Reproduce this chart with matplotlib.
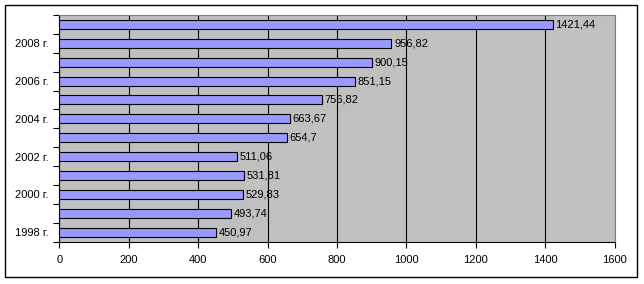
import matplotlib.pyplot as plt
import numpy as np
from matplotlib.patches import Rectangle

plt.rcParams['font.family'] = ['Liberation Sans', 'DejaVu Sans']

years = [1998, 1999, 2000, 2001, 2002, 2003, 2004, 2005, 2006, 2007, 2008, 2009]
values = [450.97, 493.74, 529.83, 531.81, 511.06, 654.7, 663.67, 756.82, 851.15, 900.15, 956.82, 1421.44]
value_labels = ['450,97', '493,74', '529,83', '531,81', '511,06', '654,7',
                '663,67', '756,82', '851,15', '900,15', '956,82', '1421,44']
year_labels = [f'{y} г.' if y % 2 == 0 else '' for y in years]

fig = plt.figure(figsize=(6.44, 2.84), dpi=100)
fig.patch.set_facecolor('white')

# outer frame
fig.patches.append(Rectangle((5 / 644, 1 - 277 / 284), 632 / 644, 272 / 284,
                             transform=fig.transFigure, fill=False,
                             edgecolor='black', linewidth=1.0))

ax = fig.add_axes([59.5 / 644, 1 - 241.5 / 284, 555 / 644, 226.5 / 284])
ax.set_facecolor('#c0c0c0')

pos = np.arange(len(years))
ax.barh(pos, values, height=0.48, color='#9999ff', edgecolor='black', linewidth=0.8, zorder=3)

for p, v, lab in zip(pos, values, value_labels):
    ax.text(v + 8, p, lab, va='center', ha='left', fontsize=8, zorder=4)

ax.set_xlim(0, 1600)
ax.set_ylim(-0.5, len(years) - 0.5)
ax.set_xticks(np.arange(0, 1601, 200))
ax.xaxis.grid(True, color='black', linewidth=0.8, zorder=1)
ax.set_axisbelow(True)

# category boundary ticks, labels centred on bars
ax.set_yticks(np.arange(-0.5, len(years), 1.0))
ax.set_yticklabels([])
ax.set_yticks(pos, minor=True)
ax.set_yticklabels(year_labels, minor=True, fontsize=8)
ax.tick_params(axis='y', which='major', length=4, width=0.8, direction='out')
ax.tick_params(axis='y', which='minor', length=0, pad=8)
ax.tick_params(axis='x', length=4, width=0.8, labelsize=8, pad=6)

for s in ['top', 'right']:
    ax.spines[s].set_color('#808080')
    ax.spines[s].set_linewidth(0.8)
for s in ['left', 'bottom']:
    ax.spines[s].set_color('black')
    ax.spines[s].set_linewidth(0.8)

fig.savefig('out.png', dpi=100)
